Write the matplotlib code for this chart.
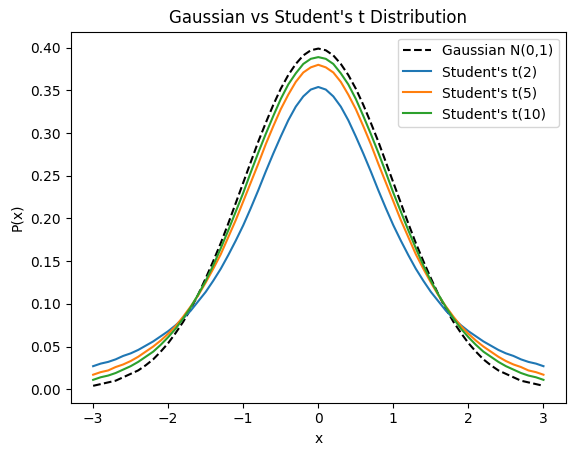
import matplotlib
matplotlib.use("Agg")
import matplotlib.pyplot as plt

x = [-3.0, -2.9, -2.8, -2.7, -2.6, -2.5, -2.4, -2.3, -2.2, -2.1, -2.0, -1.9, -1.8, -1.7, -1.6, -1.5,
     -1.4, -1.3, -1.2, -1.1, -1.0, -0.9, -0.8, -0.7, -0.6, -0.5, -0.4, -0.3, -0.2, -0.1,
     0.0, 0.1, 0.2, 0.3, 0.4, 0.5, 0.6, 0.7, 0.8, 0.9, 1.0, 1.1, 1.2, 1.3, 1.4, 1.5,
     1.6, 1.7, 1.8, 1.9, 2.0, 2.1, 2.2, 2.3, 2.4, 2.5, 2.6, 2.7, 2.8, 2.9, 3.0]

gauss = [0.004, 0.006, 0.008, 0.010, 0.014, 0.018, 0.022, 0.028, 0.035, 0.044, 0.054, 0.066, 0.079, 0.094, 0.111, 0.130,
         0.150, 0.171, 0.194, 0.218, 0.242, 0.266, 0.290, 0.312, 0.333, 0.352, 0.368, 0.381, 0.391, 0.397,
         0.399, 0.397, 0.391, 0.381, 0.368, 0.352, 0.333, 0.312, 0.290, 0.266, 0.242, 0.218, 0.194, 0.171, 0.150, 0.130,
         0.111, 0.094, 0.079, 0.066, 0.054, 0.044, 0.035, 0.028, 0.022, 0.018, 0.014, 0.010, 0.008, 0.006, 0.004]
t2 = [0.027, 0.030, 0.032, 0.035, 0.039, 0.042, 0.046, 0.051, 0.056, 0.062, 0.068, 0.075, 0.083, 0.092, 0.103, 0.114,
      0.127, 0.141, 0.157, 0.174, 0.192, 0.212, 0.233, 0.255, 0.276, 0.296, 0.315, 0.331, 0.343, 0.351,
      0.354, 0.351, 0.343, 0.331, 0.315, 0.296, 0.276, 0.255, 0.233, 0.212, 0.192, 0.174, 0.157, 0.141, 0.127, 0.114,
      0.103, 0.092, 0.083, 0.075, 0.068, 0.062, 0.056, 0.051, 0.046, 0.042, 0.039, 0.035, 0.032, 0.030, 0.027]
t5 = [0.017, 0.020, 0.022, 0.026, 0.029, 0.033, 0.038, 0.044, 0.050, 0.057, 0.065, 0.074, 0.085, 0.097, 0.110, 0.125,
      0.141, 0.158, 0.178, 0.198, 0.220, 0.242, 0.264, 0.287, 0.308, 0.328, 0.345, 0.360, 0.371, 0.377,
      0.380, 0.377, 0.371, 0.360, 0.345, 0.328, 0.308, 0.287, 0.264, 0.242, 0.220, 0.198, 0.178, 0.158, 0.141, 0.125,
      0.110, 0.097, 0.085, 0.074, 0.065, 0.057, 0.050, 0.044, 0.038, 0.033, 0.029, 0.026, 0.022, 0.020, 0.017]
t10 = [0.011, 0.014, 0.016, 0.019, 0.023, 0.027, 0.032, 0.038, 0.044, 0.052, 0.061, 0.071, 0.083, 0.096, 0.111, 0.127,
       0.145, 0.165, 0.186, 0.208, 0.230, 0.254, 0.277, 0.299, 0.320, 0.340, 0.357, 0.370, 0.381, 0.387,
       0.389, 0.387, 0.381, 0.370, 0.357, 0.340, 0.320, 0.299, 0.277, 0.254, 0.230, 0.208, 0.186, 0.165, 0.145, 0.127,
       0.111, 0.096, 0.083, 0.071, 0.061, 0.052, 0.044, 0.038, 0.032, 0.027, 0.023, 0.019, 0.016, 0.014, 0.011]

labels = ["Gaussian N(0,1)", "Student's t(2)", "Student's t(5)", "Student's t(10)"]

fig = plt.figure(figsize=(5.76, 4.55), dpi=100)
ax = fig.add_axes([0.1226, 0.1150, 0.86, 0.8153])
ax.plot(x, gauss, 'k--', label=labels[0])
ax.plot(x, t2, color='C0', label=labels[1])
ax.plot(x, t5, color='C1', label=labels[2])
ax.plot(x, t10, color='C2', label=labels[3])
ax.set_title("Gaussian vs Student's t Distribution")
ax.set_xlabel("x")
ax.set_ylabel("P(x)")
ax.legend(loc='upper right')
fig.savefig("out.png", dpi=100)
